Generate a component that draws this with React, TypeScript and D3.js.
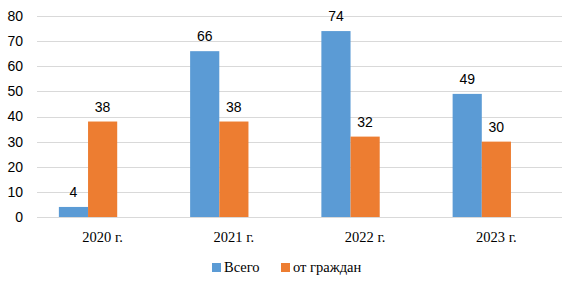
import React from "react";
import * as d3 from "d3";

const categories = ["2020 г.", "2021 г.", "2022 г.", "2023 г."];
const seriesNames = ["Всего", "от граждан"];
const totalValues = [4, 66, 74, 49];
const citizenValues = [38, 38, 32, 30];
const yTicks = [0, 10, 20, 30, 40, 50, 60, 70, 80];
const colors = ["#5B9BD5", "#ED7D31"];

const W = 576;
const H = 287;
const plot = { left: 37, right: 562, top: 16, bottom: 217 };

export default function App() {
  const x = d3.scaleBand<string>().domain(categories).range([plot.left, plot.right]).paddingInner(0).paddingOuter(0);
  // Excel layout: 3 slots per group (third series empty), gap width 150%
  const sub = d3.scaleBand<string>().domain(["s0", "s1", "s2"]).range([0, x.bandwidth()]).paddingInner(0).paddingOuter(0.75);
  const y = d3.scaleLinear().domain([0, 80]).range([plot.bottom, plot.top]);
  const series = [totalValues, citizenValues];
  const serif = "'Liberation Serif', 'Times New Roman', serif";
  const sans = "'Liberation Sans', Arial, sans-serif";

  return (
    <svg width={W} height={H} style={{ position: "absolute", left: 0, top: 0, background: "#fff" }}>
      {yTicks.map((t) => (
        <g key={t}>
          <line x1={plot.left} x2={plot.right} y1={Math.round(y(t)) + 0.5} y2={Math.round(y(t)) + 0.5} stroke="#D9D9D9" strokeWidth={1} />
          <text x={23} y={y(t)} dy="0.35em" textAnchor="end" fontFamily={sans} fontSize={14} fill="#000">
            {t}
          </text>
        </g>
      ))}
      {categories.map((c, i) => (
        <g key={c}>
          {series.map((vals, s) => {
            const bx = (x(c) as number) + (sub(`s${s}`) as number);
            const v = vals[i];
            return (
              <g key={s}>
                <rect x={bx} y={y(v)} width={sub.bandwidth()} height={y(0) - y(v)} fill={colors[s]} />
                <text x={bx + sub.bandwidth() / 2} y={y(v) - 10} textAnchor="middle" fontFamily={sans} fontSize={14} fill="#000">
                  {v}
                </text>
              </g>
            );
          })}
          <text x={(x(c) as number) + x.bandwidth() / 2} y={242} textAnchor="middle" fontFamily={serif} fontSize={14.5} fill="#000">
            {c}
          </text>
        </g>
      ))}
      {seriesNames.map((n, s) => {
        const lx = s === 0 ? 212 : 281;
        return (
          <g key={n}>
            <rect x={lx} y={263} width={9} height={9} fill={colors[s]} />
            <text x={lx + 12} y={272} fontFamily={serif} fontSize={14.5} fill="#000">
              {n}
            </text>
          </g>
        );
      })}
    </svg>
  );
}
